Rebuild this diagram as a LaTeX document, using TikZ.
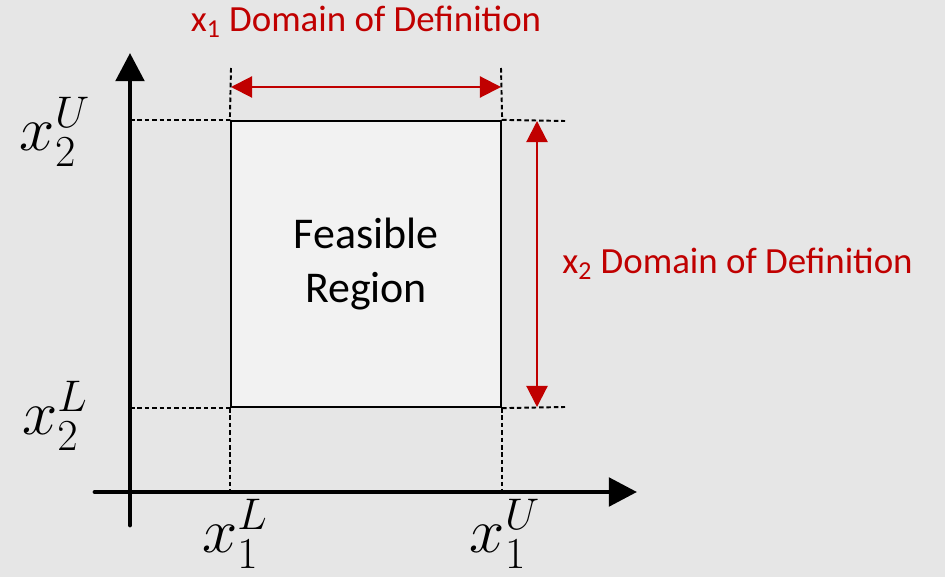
\documentclass[tikz,border=0pt]{standalone}
\usepackage{fix-cm}
\usepackage{fontspec}
\setmainfont{Carlito}
\usetikzlibrary{arrows.meta,positioning}
\definecolor{cDom}{HTML}{C00000}
\definecolor{cBg}{HTML}{E6E6E6}
\definecolor{cReg}{HTML}{F2F2F2}
\tikzset{
  axis/.style={line width=2.8pt, line cap=round, -{Triangle[length=16pt, width=16pt]}},
  guide/.style={line width=1.1pt, dash pattern=on 2.6pt off 1.6pt},
  region/.style={draw, line width=1.3pt, fill=cReg, align=center,
    minimum width=5.4cm, minimum height=5.72cm, inner sep=0pt,
    font=\fontsize{25}{31}\selectfont},
  span/.style={draw=cDom, line width=1.2pt,
    {Triangle[length=12pt, width=12pt]}-{Triangle[length=12pt, width=12pt]}},
  domlabel/.style={text=cDom, font=\fontsize{21}{25}\selectfont, inner sep=0pt},
  bound/.style={font=\fontsize{36}{42}\selectfont, inner sep=0pt},
}

\begin{document}
\begin{tikzpicture}[x=0.02cm, y=-0.02cm]
    % --- canvas ---
    \fill[cBg] (0,0) rectangle (945,577);
    \useasboundingbox (0,0) rectangle (945,577);
    % --- region and guide points ---
    \node[region] (reg) at (366,264) {Feasible\\Region};
    \coordinate (o1) at (95,492);
    \coordinate (x1end) at (637,492);
    \coordinate (o2) at (130,525);
    \coordinate (x2end) at (130,53);
    \coordinate (gl) at (231,68);
    \coordinate (gu) at (501,68);
    \coordinate (hu) at (565,121);
    \coordinate (hl) at (565,407);
    % --- dotted bounds ---
    \draw[guide] (gl) -- (reg.north west);
    \draw[guide] (gu) -- (reg.north east);
    \draw[guide] (reg.south west) -- (reg.south west |- o1);
    \draw[guide] (reg.south east) -- (reg.south east |- o1);
    \draw[guide] (o2 |- reg.north west) -- (reg.north west);
    \draw[guide] (o2 |- reg.south west) -- (reg.south west);
    \draw[guide] (reg.north east) -- (hu);
    \draw[guide] (reg.south east) -- (hl);
    % --- axes ---
    \draw[axis] (o1) -- (x1end);
    \draw[axis] (o2) -- (x2end);
    % --- domains ---
    \coordinate (d1l) at (231,87);
    \coordinate (d1r) at (501,87);
    \coordinate (d2t) at (537,121);
    \coordinate (d2b) at (537,407);
    \draw[span] (d1l) -- (d1r);
    \draw[span] (d2t) -- (d2b);
    \node[domlabel] (lab1) at (366,22) {x\textsubscript{1} Domain of Definition};
    \node[domlabel, anchor=west] (lab2) at (562,264) {x\textsubscript{2} Domain of Definition};
    % --- bound labels ---
    \node[bound] (x2u) at (55,132) {$x_2^U$};
    \node[bound] (x2l) at (55,416) {$x_2^L$};
    \node[bound] (x1l) at (235,534) {$x_1^L$};
    \node[bound] (x1u) at (505,534) {$x_1^U$};
\end{tikzpicture}
\end{document}
